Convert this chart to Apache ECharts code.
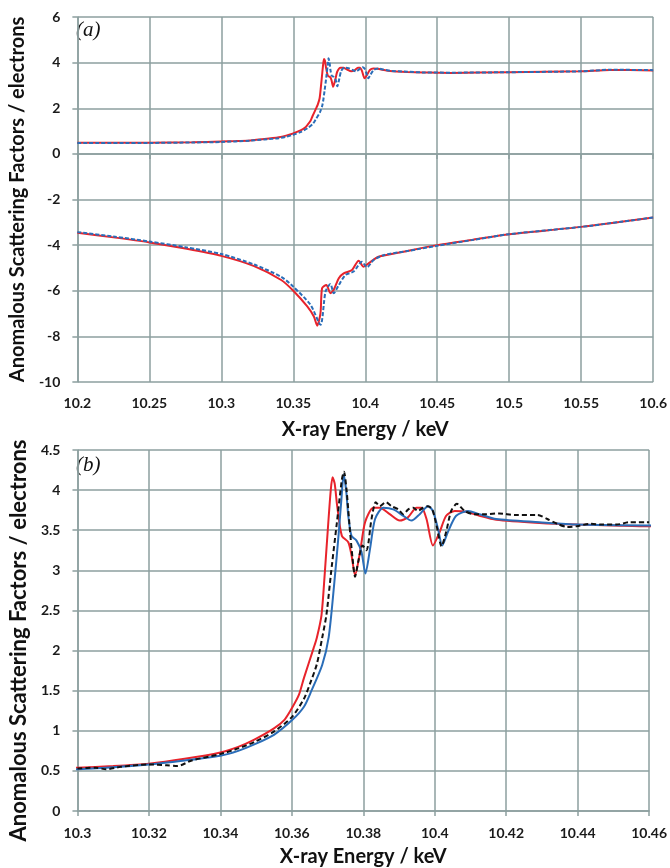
<!DOCTYPE html>
<html>
<head>
<meta charset="utf-8">
<script src="https://cdn.jsdelivr.net/npm/echarts@6/dist/echarts.min.js"></script>
<style>
html,body{margin:0;padding:0;background:#fff;}
#chart{width:670px;height:868px;}
</style>
</head>
<body>
<div id="chart"></div>
<script>
// ---- data (energy keV, value electrons) ----
const fppRed = [[10.20,0.49],[10.25,0.49],[10.28,0.51],[10.30,0.54],[10.31,0.56],[10.32,0.59],[10.33,0.65],[10.34,0.73],[10.345,0.80],[10.3495,0.89],[10.355,1.03],[10.358,1.14],[10.36,1.28],[10.362,1.45],[10.3634,1.66],[10.3661,2.03],[10.367,2.16],[10.3683,2.44],[10.3692,2.95],[10.3702,3.59],[10.3709,4.0],[10.3714,4.16],[10.372,4.08],[10.3727,3.80],[10.374,3.43],[10.3758,3.35],[10.3767,3.19],[10.3777,2.94],[10.3791,3.23],[10.3805,3.60],[10.3828,3.78],[10.3846,3.78],[10.3874,3.70],[10.3902,3.62],[10.3925,3.66],[10.3949,3.78],[10.3963,3.78],[10.3977,3.64],[10.3995,3.31],[10.4014,3.48],[10.4032,3.68],[10.4056,3.74],[10.4088,3.73],[10.4125,3.68],[10.4172,3.63],[10.4293,3.59],[10.44,3.57],[10.45,3.56],[10.46,3.55],[10.50,3.58],[10.55,3.62],[10.57,3.68],[10.60,3.66]];
const fppBlue = [[10.20,0.48],[10.25,0.48],[10.28,0.50],[10.30,0.52],[10.32,0.58],[10.33,0.63],[10.34,0.69],[10.345,0.75],[10.3495,0.83],[10.355,0.95],[10.36,1.13],[10.3634,1.30],[10.3655,1.50],[10.3685,1.82],[10.3703,2.16],[10.3718,2.80],[10.3731,3.45],[10.3739,3.90],[10.3745,4.19],[10.3752,4.00],[10.3758,3.68],[10.3767,3.43],[10.3781,3.37],[10.3795,3.23],[10.3806,2.96],[10.3819,3.27],[10.3833,3.64],[10.3856,3.78],[10.3884,3.76],[10.3912,3.68],[10.3935,3.62],[10.3958,3.70],[10.3981,3.80],[10.3995,3.74],[10.4009,3.52],[10.4021,3.31],[10.4037,3.48],[10.406,3.68],[10.4093,3.74],[10.4125,3.70],[10.4172,3.64],[10.4293,3.60],[10.44,3.57],[10.46,3.56],[10.50,3.58],[10.55,3.62],[10.57,3.69],[10.60,3.67]];
const fppBlack = [[10.30,0.53],[10.305,0.54],[10.308,0.52],[10.312,0.55],[10.32,0.58],[10.325,0.57],[10.328,0.56],[10.332,0.63],[10.34,0.71],[10.345,0.78],[10.3495,0.86],[10.355,0.99],[10.36,1.17],[10.3634,1.40],[10.3652,1.60],[10.367,1.83],[10.3685,2.16],[10.3697,2.45],[10.371,2.98],[10.3726,3.59],[10.374,4.13],[10.3746,4.23],[10.3753,4.01],[10.3763,3.48],[10.377,3.15],[10.3777,2.92],[10.3786,3.11],[10.3798,3.31],[10.3809,3.25],[10.3823,3.64],[10.3835,3.85],[10.3846,3.80],[10.3863,3.85],[10.3879,3.80],[10.3898,3.76],[10.3912,3.70],[10.3926,3.76],[10.394,3.78],[10.3953,3.74],[10.3967,3.78],[10.3981,3.80],[10.3993,3.76],[10.4005,3.56],[10.4019,3.30],[10.4032,3.48],[10.4046,3.74],[10.4062,3.83],[10.4084,3.74],[10.411,3.70],[10.4144,3.70],[10.4181,3.71],[10.4223,3.69],[10.4288,3.69],[10.4315,3.64],[10.4343,3.58],[10.4371,3.54],[10.4398,3.55],[10.4435,3.58],[10.4472,3.57],[10.4509,3.57],[10.4546,3.60],[10.46,3.60]];
const fpRed = [[10.20,-3.46],[10.225,-3.66],[10.25,-3.88],[10.275,-4.15],[10.30,-4.47],[10.3228,-4.92],[10.3416,-5.53],[10.35,-6.00],[10.3597,-6.69],[10.3643,-7.13],[10.3666,-7.53],[10.3689,-6.98],[10.37,-5.89],[10.373,-5.75],[10.3758,-6.11],[10.3781,-5.96],[10.3816,-5.45],[10.385,-5.24],[10.3908,-5.09],[10.3954,-4.68],[10.3988,-4.95],[10.4023,-4.80],[10.4092,-4.51],[10.4265,-4.29],[10.45,-4.00],[10.475,-3.76],[10.50,-3.52],[10.55,-3.20],[10.60,-2.79]];
const fpBlue = [[10.20,-3.43],[10.225,-3.62],[10.25,-3.84],[10.275,-4.09],[10.30,-4.39],[10.3228,-4.85],[10.3416,-5.39],[10.35,-5.82],[10.362,-6.62],[10.3689,-7.49],[10.3724,-6.04],[10.3758,-5.70],[10.3781,-6.11],[10.3816,-5.75],[10.3862,-5.31],[10.3919,-5.16],[10.3977,-4.73],[10.4012,-4.97],[10.4058,-4.65],[10.4127,-4.44],[10.43,-4.25],[10.45,-4.03],[10.475,-3.77],[10.50,-3.52],[10.55,-3.20],[10.60,-2.79]];
const yTitle = 'Anomalous Scattering Factors / electrons';
const xTitle = 'X-ray Energy / keV';

const RED = '#e8232b', BLUE = '#2a6db8', BLACK = '#111111', GRIDC = '#8c9f9f';
const FONT = 'Lato';

function xAx(idx, min, max, interval, fs, lm, gap, nfs) {
  return {
    gridIndex: idx, type: 'value', min: min, max: max, interval: interval,
    axisLine: {show: true, lineStyle: {color: GRIDC, width: 1.5}},
    axisTick: {show: true, inside: false, length: 5, lineStyle: {color: GRIDC, width: 1.5}},
    splitLine: {show: true, lineStyle: {color: GRIDC, width: 1.5}},
    axisLabel: {color: '#1a1a1a', fontFamily: FONT, fontWeight: 'bold', fontSize: fs, margin: lm},
    name: xTitle, nameLocation: 'middle', nameGap: gap,
    nameTextStyle: {color: '#111', fontFamily: FONT, fontWeight: 'bold', fontSize: nfs}
  };
}
function yAx(idx, min, max, interval, fs, gap, nfs, pad) {
  return {
    gridIndex: idx, type: 'value', min: min, max: max, interval: interval,
    axisLine: {show: true, lineStyle: {color: GRIDC, width: 1.5}},
    axisTick: {show: true, inside: false, length: 5, lineStyle: {color: GRIDC, width: 1.5}},
    splitLine: {show: true, lineStyle: {color: GRIDC, width: 1.5}},
    axisLabel: {color: '#1a1a1a', fontFamily: FONT, fontWeight: 'bold', fontSize: fs, margin: 17},
    name: yTitle, nameLocation: 'middle', nameGap: gap,
    nameTextStyle: {color: '#111', fontFamily: FONT, fontWeight: 'bold', fontSize: nfs, padding: pad}
  };
}
function line(data, xi, color, dash, z) {
  return {
    type: 'line', data: data, xAxisIndex: xi, yAxisIndex: xi, showSymbol: false,
    smooth: 0.25, clip: true, z: z,
    lineStyle: {color: color, width: 2, type: dash || 'solid'}
  };
}

const chart = echarts.init(document.getElementById('chart'), null, {renderer: 'canvas'});
chart.setOption({
  animation: false,
  backgroundColor: '#fff',
  grid: [
    {left: 71, top: 17, width: 584, height: 365},
    {left: 72, top: 450, width: 582, height: 365}
  ],
  xAxis: [xAx(0, 10.2, 10.6, 0.05, 14, 14, 38, 20), xAx(1, 10.3, 10.46, 0.02, 14, 15, 36, 20)],
  yAxis: [yAx(0, -10, 6, 2, 14, 47, 20, [0,0,0,0]), yAx(1, 0, 4.5, 0.5, 14, 47, 22, [0,20,0,0])],
  graphic: [
    {type: 'text', left: 76, top: 20, style: {text: '(a)', font: 'italic 21px "Liberation Serif"', fill: '#111'}},
    {type: 'text', left: 76, top: 455, style: {text: '(b)', font: 'italic 21px "Liberation Serif"', fill: '#111'}}
  ],
  series: [
    line(fppRed, 0, RED, null, 2),
    line(fppBlue, 0, BLUE, [4, 2], 3),
    line(fpRed, 0, RED, null, 2),
    line(fpBlue, 0, BLUE, [4, 2], 3),
    line(fppRed, 1, RED, null, 2),
    line(fppBlue, 1, BLUE, null, 3),
    line(fppBlack, 1, BLACK, [5, 3], 4)
  ]
});
</script>
</body>
</html>
